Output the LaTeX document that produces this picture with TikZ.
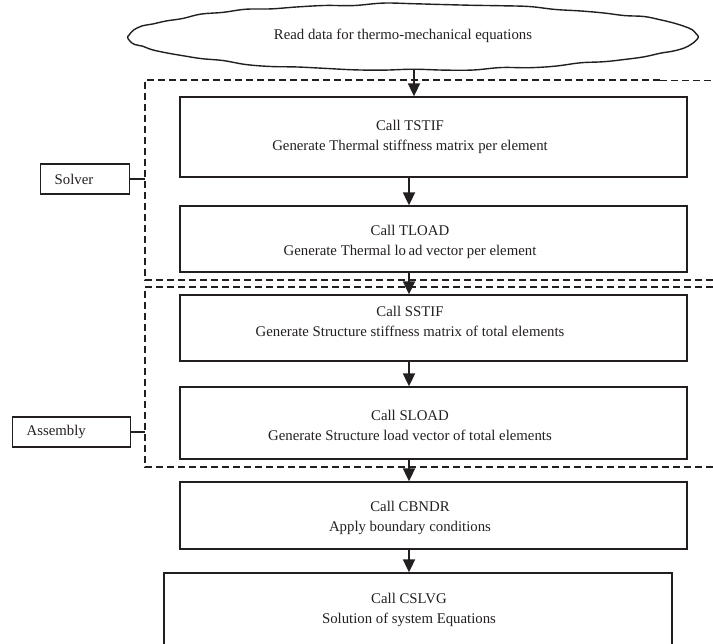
\documentclass[tikz,border=0pt]{standalone}
\usepackage{fontspec}
\setmainfont{Liberation Serif}
\usetikzlibrary{arrows.meta,shapes.geometric}
\definecolor{ink}{RGB}{35,31,32}
\begin{document}
\begin{tikzpicture}[x=1pt,y=-1pt,
  every node/.style={font=\fontsize{14.8}{20}\selectfont, text=ink},
  proc/.style={draw=ink, line width=1.3pt, inner sep=0pt, minimum width=507pt},
  txt/.style={align=center, inner sep=0pt},
  lbl/.style={draw=ink, line width=1.3pt, inner ysep=0pt, inner xsep=14pt, align=left, minimum height=30pt},
  arr/.style={draw=ink, line width=1.8pt, -{Triangle[width=12pt,length=13pt]}},
  conn/.style={draw=ink, line width=1.1pt},
  outline/.style={draw=ink, line width=1.4pt},
  dsh/.style={draw=ink, line width=1.8pt, dash pattern=on 7pt off 4pt},
  dshthin/.style={draw=ink, line width=0.9pt, dash pattern=on 7pt off 4pt}]
\useasboundingbox (0,0) rectangle (713,644);
\clip (0,0) rectangle (713,644);
\pgfmathsetseed{11}
% start ellipse (invisible node for connections, wobbly outline drawn by hand)
\node[ellipse, minimum width=570pt, minimum height=66pt, inner sep=0pt] (ell) at (413,37) {};
\draw[outline] plot[smooth cycle, tension=0.6, domain=0:354, samples=60]
  ({413+285*cos(\x)+0.8*rand}, {37+33*sin(\x)+1.1*rand});
\node[txt] (tell) at (403,36) {Read data for thermo-mechanical equations};
% dashed groups
\draw[dsh] (660,80) -- (145,80) -- (145,280) -- (713,280);
\draw[dshthin] (660,80) -- (713,80);
\draw[dsh] (713,287) -- (145,287) -- (145,467) -- (713,467);
\coordinate (dl) at (145,0);
% process boxes
\node[proc, minimum height=80pt] (b1) at (433.5,137) {};
\node[proc, minimum height=66pt] (b2) at (433.5,239) {};
\node[proc, minimum height=66pt] (b3) at (433.5,328) {};
\node[proc, minimum height=72pt] (b4) at (433.5,423) {};
\node[proc, minimum height=67pt] (b5) at (433.5,515.5) {};
\node[proc, minimum width=508pt, minimum height=87pt] (b6) at (418,616.5) {};
% texts
\node[txt] (t1) at (410,137) {Call TSTIF\\Generate Thermal stiffness matrix per element};
\node[txt] (t2) at (410,242) {Call TLOAD\\Generate Thermal lo\,ad vector per element};
\node[txt] (t3) at (410,321) {Call SSTIF\\Generate Structure stiffness matrix of total elements};
\node[txt] (t4) at (410,425) {Call SLOAD\\Generate Structure load vector of total elements};
\node[txt] (t5) at (410,517.5) {Call CBNDR\\Apply boundary conditions};
\node[txt] (t6) at (409,609.5) {Call CSLVG\\Solution of system Equations};
% side labels
\node[lbl, anchor=west, text width=61pt] (solver) at (40,179) {Solver};
\node[lbl, anchor=west, text width=90pt] (assembly) at (12,432) {Assembly};
\draw[conn] (solver.east) -- (solver.east -| dl);
\draw[conn] (assembly.east) -- (assembly.east -| dl);
% arrows
\coordinate (ax0) at (414,0);
\coordinate (ax) at (409,0);
\draw[arr] (ell.south -| ax0) -- (b1.north -| ax0);
\draw[arr] (b1.south -| ax) -- (b2.north -| ax);
\draw[arr] (b2.south -| ax) -- (b3.north -| ax);
\draw[arr] (b3.south -| ax) -- (b4.north -| ax);
\draw[arr] (b4.south -| ax) -- (b5.north -| ax);
\draw[arr] (b5.south -| ax) -- (b6.north -| ax);
\end{tikzpicture}
\end{document}
